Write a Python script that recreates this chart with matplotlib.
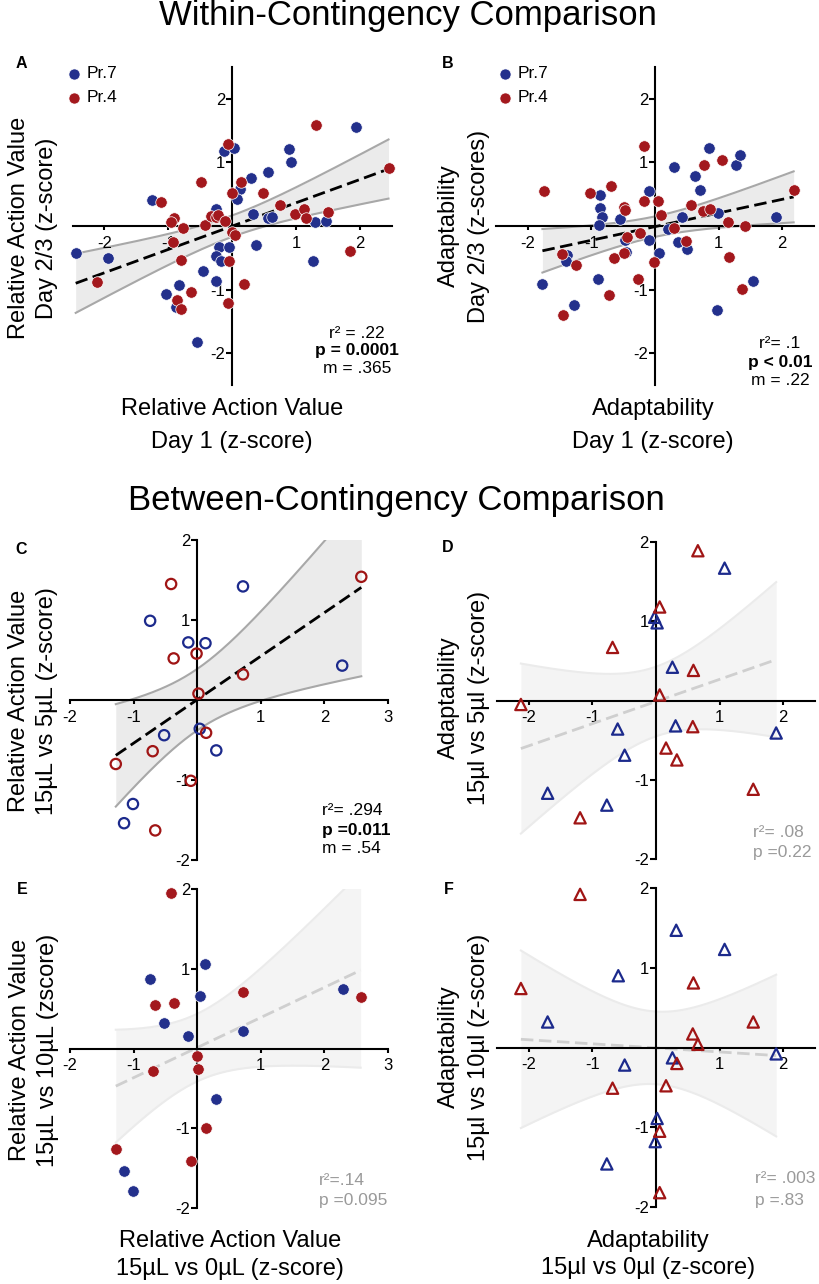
import numpy as np
import matplotlib
matplotlib.use("Agg")
import matplotlib.pyplot as plt
from matplotlib.lines import Line2D

plt.rcParams["font.family"] = ["Liberation Sans", "DejaVu Sans"]

W, H = 819, 1284
BLUE = "#23308c"
RED = "#a3181d"
GREY_TXT = "#9a9a9a"

# ---- panel A: relative action value, day 1 vs day 2/3
A_BLUE_X = [-2.45, -1.94, -1.25, -0.25, -0.12, 0.03, 0.12, 0.08, 0.30, 0.57, 0.89, 0.92, 1.94, 0.33, 0.57,
            0.63, 1.30, 1.47, 1.26, 0.38, -0.20, -0.05, -0.25, -0.18, -0.45, -0.26, -0.83, -1.03, -0.88, -0.55]
A_BLUE_Y = [-0.42, -0.50, 0.41, 0.27, 1.17, 1.22, 0.58, 0.42, 0.75, 0.85, 1.20, 1.00, 1.56, 0.18, 0.13,
            0.14, 0.06, 0.08, -0.55, -0.30, -0.34, -0.34, -0.47, -0.56, -0.71, -0.86, -0.93, -1.07, -1.28, -1.82]
A_RED_X = [-2.11, -1.12, -0.91, -0.96, -0.77, -0.93, -0.80, -0.48, -0.43, -0.33, -0.26, -0.22, -0.11, -0.07,
           0.00, 0.14, 0.00, 0.04, -0.05, 0.18, -0.07, -0.64, -0.86, -0.80, 0.49, 0.75, 0.98, 1.12, 1.16,
           1.50, 1.32, 2.45, 1.85]
A_RED_Y = [-0.88, 0.37, 0.13, 0.06, -0.03, -0.26, -0.53, 0.69, 0.02, 0.16, 0.14, 0.17, 0.07, 1.28,
           0.51, 0.69, -0.09, -0.15, -0.56, -0.91, -1.21, -1.04, -1.16, -1.31, 0.51, 0.33, 0.18, 0.27, 0.13,
           0.21, 1.59, 0.91, -0.40]

# ---- panel B: adaptability, day 1 vs day 2/3
B_BLUE_X = [-1.77, -1.28, -1.38, -1.40, -0.90, -0.86, -0.86, -0.84, -0.88, -0.55, -0.47, -0.46, -0.09, -0.10,
            0.07, 0.30, 0.21, 0.36, 0.42, 0.50, 0.63, 0.71, 0.85, 0.99, 1.27, 1.33, 1.54, 0.98, 1.90]
B_BLUE_Y = [-0.92, -1.25, -0.46, -0.55, -0.83, 0.49, 0.28, 0.14, 0.02, 0.10, -0.23, -0.41, 0.55, -0.23,
            -0.42, 0.92, -0.05, -0.25, 0.14, -0.37, 0.79, 0.57, 1.22, 0.20, 0.95, 1.11, -0.87, -1.32, 0.14]
B_RED_X = [-1.74, -1.46, -1.45, -1.24, -1.02, -0.69, -0.72, -0.64, -0.49, -0.48, -0.47, -0.44, -0.24, -0.18,
           -0.18, -0.27, -0.02, 0.04, 0.10, 0.30, 0.49, 0.57, 0.75, 0.87, 0.77, 1.06, 1.14, 1.16, 1.42,
           1.37, 2.18]
B_RED_Y = [0.55, -0.45, -1.40, -0.61, 0.51, 0.63, -1.09, -0.50, -0.42, 0.30, 0.25, -0.17, -0.12, 0.39,
           1.25, -0.84, -0.57, 0.39, 0.17, -0.04, -0.24, 0.33, 0.24, 0.27, 0.95, 1.03, 0.06, -0.49, 0.00,
           -0.99, 0.56]

# ---- panels C/E: relative action value 15uL vs 0uL on x
CE_BLUE_X = [-0.74, -0.14, 0.13, 0.72, 2.28, 0.04, -0.52, 0.30, -1.01, -1.15]
CE_RED_X = [-0.41, -0.37, -0.01, 0.02, 0.72, 2.58, 0.14, -0.70, -1.28, -0.10, -0.66]
C_BLUE_Y = [0.99, 0.72, 0.71, 1.42, 0.43, -0.36, -0.44, -0.63, -1.30, -1.54]
C_RED_Y = [1.45, 0.52, 0.58, 0.08, 0.32, 1.54, -0.41, -0.64, -0.80, -1.01, -1.63]
E_BLUE_X = [-0.74, 0.13, 0.05, -0.52, -0.14, 0.72, 2.29, 0.30, -1.15, -1.01]
E_BLUE_Y = [0.87, 1.06, 0.66, 0.32, 0.16, 0.22, 0.75, -0.63, -1.54, -1.79]
E_RED_X = [-0.41, -0.66, -0.37, 0.72, 2.57, -0.01, 0.02, -0.70, 0.14, -0.10, -1.28]
E_RED_Y = [1.95, 0.54, 0.57, 0.71, 0.64, -0.10, -0.26, -0.28, -1.00, -1.41, -1.26]

# ---- panels D/F: adaptability 15ul vs 0ul on x
D_BLUE_X = [1.08, -0.02, 0.02, 0.26, 0.31, -0.60, -0.49, 1.89, -1.70, -0.77]
D_BLUE_Y = [1.67, 1.05, 0.98, 0.42, -0.32, -0.36, -0.69, -0.41, -1.17, -1.32]
D_RED_X = [0.66, 0.06, -0.68, 0.59, 0.06, -2.12, 0.58, 0.16, 0.33, 1.53, -1.19]
D_RED_Y = [1.89, 1.18, 0.67, 0.38, 0.07, -0.05, -0.33, -0.60, -0.75, -1.12, -1.48]
F_BLUE_X = [0.32, 1.08, -0.59, -1.70, -0.49, 0.26, 1.89, 0.02, -0.01, -0.77]
F_BLUE_Y = [1.47, 1.23, 0.90, 0.32, -0.22, -0.13, -0.08, -0.89, -1.18, -1.46]
F_RED_X = [-1.19, -2.12, 0.59, 1.53, 0.58, 0.66, 0.33, 0.16, -0.68, 0.06, 0.06]
F_RED_Y = [1.92, 0.74, 0.81, 0.32, 0.17, 0.04, -0.20, -0.48, -0.51, -1.05, -1.82]

TICKS_5 = [-2, -1, 1, 2]
TICKS_C = [-2, -1, 1, 2, 3]


def fig_rect(left, top, right, bottom):
    return [left / W, 1 - bottom / H, (right - left) / W, (bottom - top) / H]


def ftext(x, y, s, **kw):
    kw.setdefault("va", "baseline")
    return plt.figtext(x / W, 1 - y / H, s, **kw)


def t95(df):
    # two-sided 95% t quantile (Cornish-Fisher expansion)
    z = 1.959964
    return z + (z ** 3 + z) / (4 * df) + (5 * z ** 5 + 16 * z ** 3 + 3 * z) / (96 * df ** 2)


def setup_axes(ax, xlim, ylim, xticks, yticks):
    ax.set_xlim(xlim)
    ax.set_ylim(ylim)
    ax.patch.set_visible(False)
    for s in ("top", "right"):
        ax.spines[s].set_visible(False)
    ax.spines["left"].set_position(("data", 0))
    ax.spines["bottom"].set_position(("data", 0))
    for s in ("left", "bottom"):
        ax.spines[s].set_linewidth(1.5)
    ax.set_xticks(xticks)
    ax.set_xticklabels([str(t) for t in xticks])
    ax.set_yticks(yticks)
    ax.set_yticklabels([str(t) for t in yticks])
    ax.tick_params(axis="y", direction="out", length=4, width=1.5, pad=1, labelsize=12)
    ax.tick_params(axis="x", direction="out", length=3, width=1.5, pad=4, labelsize=12)


def fit_band(ax, xs, ys, faint=False):
    x = np.asarray(xs, float)
    y = np.asarray(ys, float)
    n = len(x)
    slope, icpt = np.polyfit(x, y, 1)
    resid = y - (icpt + slope * x)
    s = np.sqrt(np.sum(resid ** 2) / (n - 2))
    sxx = np.sum((x - x.mean()) ** 2)
    grid = np.linspace(x.min(), x.max(), 200)
    fit = icpt + slope * grid
    half = t95(n - 2) * s * np.sqrt(1 / n + (grid - x.mean()) ** 2 / sxx)
    if faint:
        fill_c, edge_c, line_c = "#f4f4f4", "#ebebeb", "#cfcfcf"
    else:
        fill_c, edge_c, line_c = "#ebebeb", "#a8a8a8", "black"
    ax.fill_between(grid, fit - half, fit + half, color=fill_c, lw=0, zorder=1)
    ax.plot(grid, fit - half, color=edge_c, lw=1.5, zorder=1.5)
    ax.plot(grid, fit + half, color=edge_c, lw=1.5, zorder=1.5)
    ax.plot(grid, fit, color=line_c, lw=2, ls=(0, (4.5, 2)), zorder=2)


def dots(ax, x, y, color, style):
    if style == "filled":
        ax.scatter(x, y, s=68, c=color, edgecolors="white", linewidths=0.5, zorder=3, clip_on=False)
    elif style == "ring":
        ax.scatter(x, y, s=55, facecolors="none", edgecolors=color, linewidths=1.6, zorder=3, clip_on=False)
    else:
        ax.scatter(x, y, s=66, marker="^", facecolors="none", edgecolors=color, linewidths=1.6,
                   zorder=3, clip_on=False)


def legend(x, y):
    for dy, c, lab in ((0, BLUE, "Pr.7"), (24, RED, "Pr.4")):
        fig.add_artist(Line2D([x / W], [1 - (y + dy) / H], marker="o", ms=8, color=c, mec="white",
                              mew=0.5, transform=fig.transFigure))
        ftext(x + 13, y + dy, lab, va="center", fontsize=12.5)


fig = plt.figure(figsize=(W / 100, H / 100), dpi=100)

# titles
ftext(408, 25, "Within-Contingency Comparison", ha="center", fontsize=25)
ftext(396, 510, "Between-Contingency Comparison", ha="center", fontsize=25)

# panel A
ax = fig.add_axes(fig_rect(72.5, 66.7, 391.7, 385))
setup_axes(ax, (-2.5, 2.5), (-2.5, 2.5), TICKS_5, TICKS_5)
fit_band(ax, A_BLUE_X + A_RED_X, A_BLUE_Y + A_RED_Y)
dots(ax, A_BLUE_X, A_BLUE_Y, BLUE, "filled")
dots(ax, A_RED_X, A_RED_Y, RED, "filled")
legend(74, 74)

# panel B
ax = fig.add_axes(fig_rect(496, 66.7, 814, 385))
setup_axes(ax, (-2.5, 2.5), (-2.5, 2.5), TICKS_5, TICKS_5)
fit_band(ax, B_BLUE_X + B_RED_X, B_BLUE_Y + B_RED_Y)
dots(ax, B_BLUE_X, B_BLUE_Y, BLUE, "filled")
dots(ax, B_RED_X, B_RED_Y, RED, "filled")
legend(505, 74)

# panel C
ax = fig.add_axes(fig_rect(70, 540, 388, 860))
setup_axes(ax, (-2, 3), (-2, 2), TICKS_C, TICKS_5)
fit_band(ax, CE_BLUE_X + CE_RED_X, C_BLUE_Y + C_RED_Y)
dots(ax, CE_BLUE_X, C_BLUE_Y, "#1c2a8c", "ring")
dots(ax, CE_RED_X, C_RED_Y, "#a01515", "ring")

# panel D
ax = fig.add_axes(fig_rect(496.7, 542, 815, 859))
setup_axes(ax, (-2.5, 2.5), (-2, 2), TICKS_5, TICKS_5)
fit_band(ax, D_BLUE_X + D_RED_X, D_BLUE_Y + D_RED_Y, faint=True)
dots(ax, D_BLUE_X, D_BLUE_Y, "#1c2a8c", "tri")
dots(ax, D_RED_X, D_RED_Y, "#a01515", "tri")

# panel E
ax = fig.add_axes(fig_rect(70, 889, 388, 1208))
setup_axes(ax, (-2, 3), (-2, 2), TICKS_C, TICKS_5)
fit_band(ax, E_BLUE_X + E_RED_X, E_BLUE_Y + E_RED_Y, faint=True)
dots(ax, E_BLUE_X, E_BLUE_Y, BLUE, "filled")
dots(ax, E_RED_X, E_RED_Y, RED, "filled")

# panel F
ax = fig.add_axes(fig_rect(496.7, 888, 815, 1207))
setup_axes(ax, (-2.5, 2.5), (-2, 2), TICKS_5, TICKS_5)
fit_band(ax, F_BLUE_X + F_RED_X, F_BLUE_Y + F_RED_Y, faint=True)
dots(ax, F_BLUE_X, F_BLUE_Y, "#1c2a8c", "tri")
dots(ax, F_RED_X, F_RED_Y, "#a01515", "tri")

# panel letters
for lx, ly, letter in ((21, 64, "A"), (448, 64, "B"), (21, 549, "C"),
                       (448, 548, "D"), (22, 889, "E"), (449, 889, "F")):
    ftext(lx, ly, letter, ha="center", va="center", fontsize=11.5, fontweight="bold")

# y labels (two rotated lines each)
LAB = 17
ylabels = [
    (25, 53, 228, "Relative Action Value", "Day 2/3 (z-score)"),
    (455, 485, 226, "Adaptability", "Day 2/3 (z-scores)"),
    (25, 53, 701, "Relative Action Value", "15µL vs 5µL (z-score)"),
    (455, 485, 698, "Adaptability", "15µl vs 5µl (z-score)"),
    (26, 54, 1050, "Relative Action Value", "15µL vs 10µL (zscore)"),
    (455, 485, 1047, "Adaptability", "15µl vs 10µl (z-score)"),
]
for x1, x2, yc, l1, l2 in ylabels:
    ftext(x1, yc, l1, ha="center", rotation=90, rotation_mode="anchor", fontsize=LAB)
    ftext(x2, yc, l2, ha="center", rotation=90, rotation_mode="anchor", fontsize=LAB)

# x labels
xlabels = [
    (232, 415, 448, "Relative Action Value", "Day 1 (z-score)"),
    (653, 415, 448, "Adaptability", "Day 1 (z-score)"),
    (230, 1247, 1275, "Relative Action Value", "15µL vs 0µL (z-score)"),
    (648, 1247, 1274, "Adaptability", "15µl vs 0µl (z-score)"),
]
for xc, y1, y2, l1, l2 in xlabels:
    ftext(xc, y1, l1, ha="center", fontsize=LAB)
    ftext(xc, y2, l2, ha="center", fontsize=LAB)

# stats
ftext(357, 338, "r² = .22", ha="center", fontsize=12.5)
ftext(357, 355.5, "p = 0.0001", ha="center", fontsize=12.5, fontweight="bold")
ftext(357, 373, "m = .365", ha="center", fontsize=12.5)
ftext(780, 348, "r²= .1", ha="center", fontsize=12.5)
ftext(780, 367, "p < 0.01", ha="center", fontsize=12.5, fontweight="bold")
ftext(780, 385, "m = .22", ha="center", fontsize=12.5)
ftext(322, 815, "r²= .294", fontsize=12.5)
ftext(322, 835, "p =0.011", fontsize=12.5, fontweight="bold")
ftext(322, 853, "m = .54", fontsize=12.5)
ftext(753, 837, "r²= .08", fontsize=12.5, color=GREY_TXT)
ftext(753, 857, "p =0.22", fontsize=12.5, color=GREY_TXT)
ftext(319, 1185, "r²=.14", fontsize=12.5, color=GREY_TXT)
ftext(319, 1205, "p =0.095", fontsize=12.5, color=GREY_TXT)
ftext(755, 1183, "r²= .003", fontsize=12.5, color=GREY_TXT)
ftext(755, 1205, "p =.83", fontsize=12.5, color=GREY_TXT)

fig.savefig("out.png", dpi=100)
